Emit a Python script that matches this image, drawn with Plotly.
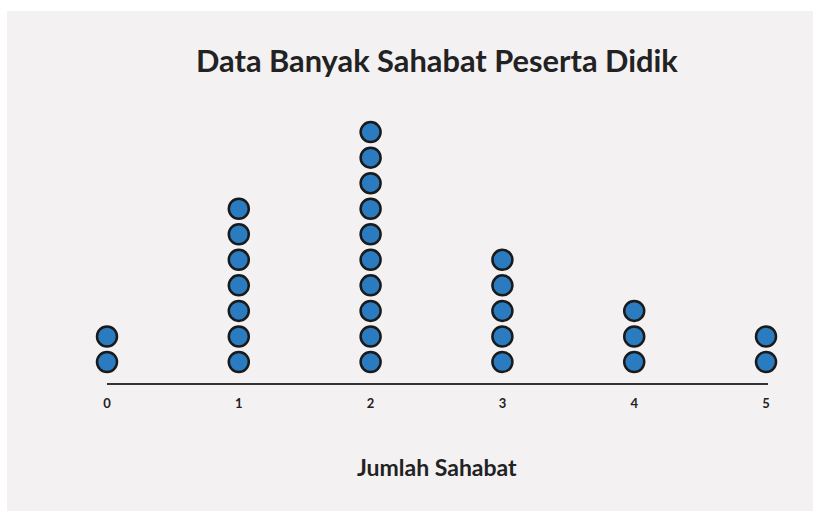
"""Dot plot: Data Banyak Sahabat Peserta Didik."""

import plotly.graph_objects as go

jumlah_sahabat = [0, 1, 2, 3, 4, 5]
banyak_siswa = [2, 7, 10, 5, 3, 2]

BG = "#f3f1f2"
DOT = "#2a7bbf"
INK = "#222222"

# one marker per student, stacked upward
xs, ys = [], []
for x, n in zip(jumlah_sahabat, banyak_siswa):
    for k in range(1, n + 1):
        xs.append(x)
        ys.append(k)

fig = go.Figure(
    go.Scatter(
        x=xs,
        y=ys,
        mode="markers",
        marker=dict(size=20, color=DOT, line=dict(color="#1a1a1a", width=2.5)),
        cliponaxis=False,
        hoverinfo="x+y",
    )
)

fig.update_layout(
    width=813,
    height=511,
    margin=dict(l=107, r=45, t=11, b=128),
    paper_bgcolor="white",
    plot_bgcolor="rgba(0,0,0,0)",
    font=dict(family="Lato", color=INK),
    showlegend=False,
    shapes=[
        # grey panel, leaves a thin white strip top/left
        dict(type="rect", xref="paper", yref="paper", x0=-0.1513, x1=1.2,
             y0=-0.5, y1=1.0, fillcolor=BG, line_width=0, layer="below"),
    ],
    annotations=[
        dict(text="<b>Data Banyak Sahabat Peserta Didik</b>", xref="paper", yref="paper",
             x=0.4992, y=0.868, xanchor="center", yanchor="middle",
             showarrow=False, font=dict(size=30.8, color=INK)),
        dict(text="<b>Jumlah Sahabat</b>", xref="paper", yref="paper",
             x=0.4992, y=-0.2258, xanchor="center", yanchor="middle",
             showarrow=False, font=dict(size=23, color=INK)),
    ],
)

fig.update_xaxes(
    range=[0, 5.015],
    tickvals=jumlah_sahabat,
    ticktext=[f"<b>{v}</b>" for v in jumlah_sahabat],
    tickfont=dict(size=13, color=INK),
    showline=True,
    linecolor="#333333",
    linewidth=1.5,
    showgrid=False,
    zeroline=False,
    ticks="",
    ticklabelstandoff=8,
    fixedrange=True,
)
fig.update_yaxes(
    range=[0.178, 14.74],
    visible=False,
    showgrid=False,
    zeroline=False,
    fixedrange=True,
)

fig.write_html(
    "out.html",
    config={"displayModeBar": False},
    post_script="document.body.style.margin='0';document.body.style.overflow='hidden';",
)
